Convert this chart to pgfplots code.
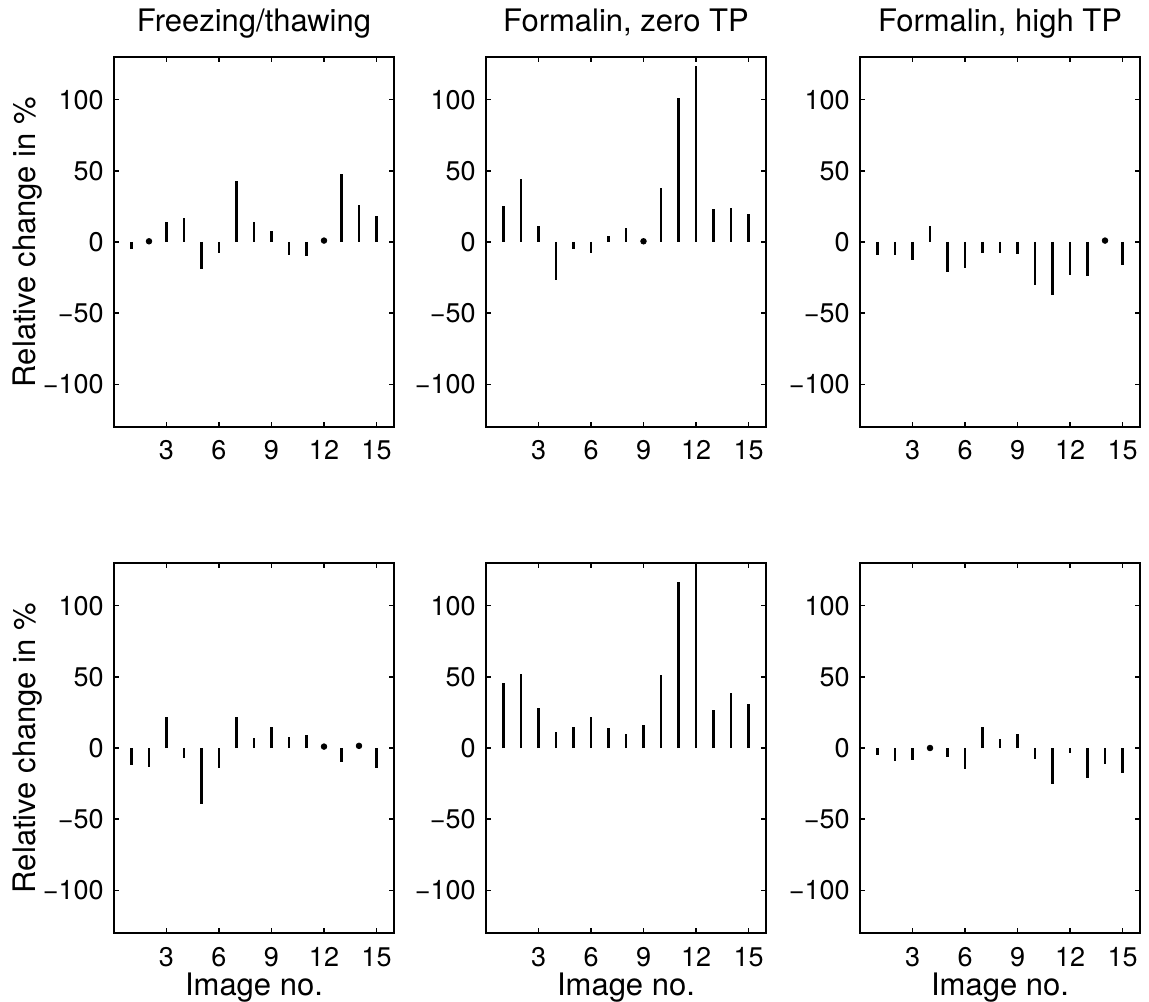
\documentclass[border=0pt]{standalone}
\usepackage{fontspec}
\setmainfont{TeX Gyre Heros}
\usepackage{pgfplots}
\pgfplotsset{compat=1.18}
\pgfplotsset{
  every axis title shift=0pt,
  panel/.style={
    scale only axis, width=140pt, height=185pt,
    xmin=0, xmax=16, ymin=-130, ymax=130,
    xtick={3,6,9,12,15},
    ytick={-100,-50,0,50,100},
    yticklabels={−100,−50,0,50,100},
    tick align=inside, tick pos=both,
    major tick length=2.5pt,
    axis line style={line width=0.9pt},
    every tick/.style={black, line width=0.8pt},
    tick label style={font=\fontsize{13.5}{15}\selectfont},
    label style={font=\fontsize{15.5}{18}\selectfont},
    title style={font=\fontsize{15.5}{18}\selectfont, at={(axis description cs:0.5,1.07)}, anchor=base},
    xticklabel style={anchor=base, yshift=-16.5pt},
    yticklabel style={anchor=east, inner sep=0pt, xshift=-5pt},
    ylabel style={at={(axis description cs:-0.28,0.5)}, anchor=base},
    xlabel style={at={(axis description cs:0.5,-0.168)}, anchor=base},
    /pgf/number format/assume math mode=true,
  },
  stem/.style={ycomb, black, line width=1.1pt, mark=none},
  dot/.style={only marks, black, mark=*, mark size=1.4pt},
}
\begin{document}
\begin{tikzpicture}
\useasboundingbox (0,0) rectangle (574.5pt,500.5pt);
% Top-left
\begin{axis}[panel, at={(57pt,287pt)}, anchor=south west,
  title={Freezing/thawing}, ylabel={Relative change in \%}]
\addplot[stem] coordinates {(1,-5) (2,0.5) (3,14) (4,17) (5,-19) (6,-7.5) (7,43) (8,14) (9,8) (10,-9) (11,-10) (12,1) (13,48) (14,26) (15,18)};
\addplot[dot] coordinates {(2,0.5) (12,1)};
\end{axis}
% Top-middle
\begin{axis}[panel, at={(243pt,287pt)}, anchor=south west,
  title={Formalin, zero TP}]
\addplot[stem] coordinates {(1,25) (2,44) (3,11) (4,-27) (5,-5) (6,-8) (7,4) (8,10) (9,0.5) (10,38) (11,101) (12,124) (13,23) (14,24) (15,20)};
\addplot[dot] coordinates {(9,0.5)};
\end{axis}
% Top-right
\begin{axis}[panel, at={(430pt,287pt)}, anchor=south west,
  title={Formalin, high TP}]
\addplot[stem] coordinates {(1,-9) (2,-9) (3,-13) (4,11) (5,-21) (6,-18) (7,-8) (8,-8) (9,-8.5) (10,-30) (11,-37) (12,-23) (13,-24) (14,1) (15,-16)};
\addplot[dot] coordinates {(14,1)};
\end{axis}
% Bottom-left
\begin{axis}[panel, at={(57pt,34pt)}, anchor=south west,
  xlabel={Image no.}, ylabel={Relative change in \%}]
\addplot[stem] coordinates {(1,-12) (2,-13) (3,22) (4,-7) (5,-39) (6,-14) (7,22) (8,7) (9,15) (10,8) (11,9) (12,1) (13,-10) (14,1.5) (15,-14)};
\addplot[dot] coordinates {(12,1) (14,1.5)};
\end{axis}
% Bottom-middle
\begin{axis}[panel, at={(243pt,34pt)}, anchor=south west,
  xlabel={Image no.}]
\addplot[stem] coordinates {(1,46) (2,52) (3,28) (4,11.5) (5,15) (6,21.5) (7,14) (8,10) (9,16) (10,51) (11,117) (12,135) (13,27) (14,39) (15,31)};
\end{axis}
% Bottom-right
\begin{axis}[panel, at={(430pt,34pt)}, anchor=south west,
  xlabel={Image no.}]
\addplot[stem] coordinates {(1,-5) (2,-9) (3,-8.5) (4,0) (5,-6) (6,-15) (7,14.5) (8,6) (9,10) (10,-8) (11,-25) (12,-3.5) (13,-21) (14,-11.5) (15,-17.5)};
\addplot[dot] coordinates {(4,0)};
\end{axis}
\end{tikzpicture}
\end{document}
